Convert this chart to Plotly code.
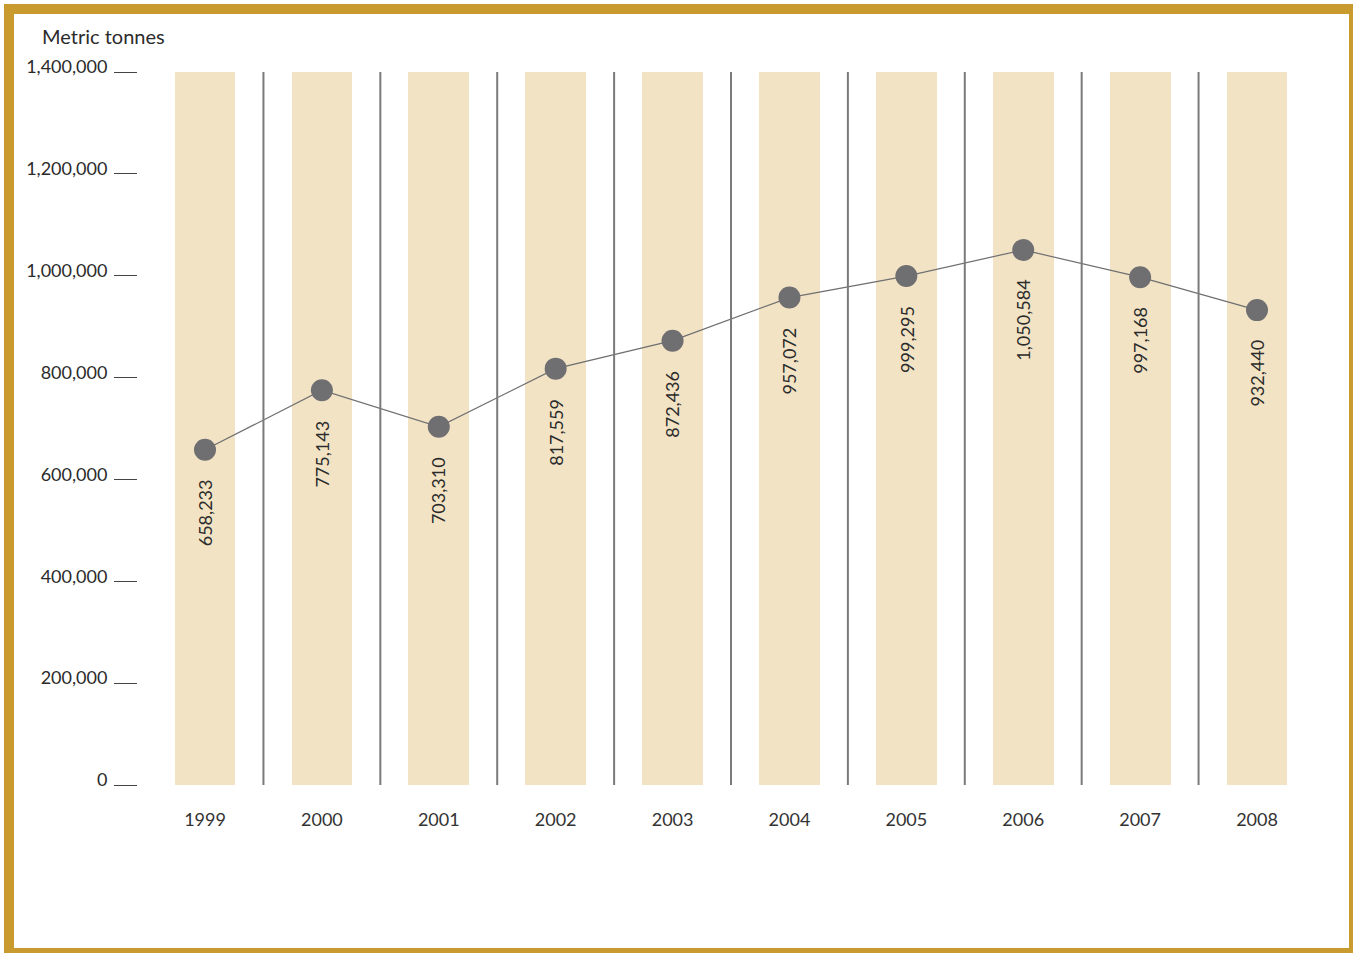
import plotly.graph_objects as go

years = [1999, 2000, 2001, 2002, 2003, 2004, 2005, 2006, 2007, 2008]
tonnes = [658233, 775143, 703310, 817559, 872436, 957072, 999295, 1050584, 997168, 932440]
ytick_vals = [0, 200000, 400000, 600000, 800000, 1000000, 1200000, 1400000]
ytick_text = ["0", "200,000", "400,000", "600,000", "800,000", "1,000,000", "1,200,000", "1,400,000"]
y_max = 1400000
y_title = "Metric tonnes"

W, H = 1353, 953
L, R, T, B = 138, 1300, 72, 785  # plot area in pixels
FONT = "Lato, 'DejaVu Sans', sans-serif"
TXT = "#2b2b2b"
BAND = "#F2E3C5"
GOLD = "#C99A2E"
GREY = "#6f6f71"

def px(x):
    return (x - L) / (R - L)

def py(y):
    return (B - y) / (B - T)

fig = go.Figure()

# background bands
fig.add_trace(go.Bar(
    x=years, y=[y_max] * len(years), width=0.52,
    marker=dict(color=BAND, line=dict(width=0)),
    hoverinfo="skip", showlegend=False,
))

# line + markers
fig.add_trace(go.Scatter(
    x=years, y=tonnes, mode="lines+markers",
    line=dict(color=GREY, width=1.2),
    marker=dict(color=GREY, size=22),
    showlegend=False,
))

shapes = []
# separators between years
for a, b in zip(years[:-1], years[1:]):
    shapes.append(dict(type="line", xref="x", yref="y", x0=(a + b) / 2, x1=(a + b) / 2,
                       y0=0, y1=y_max, line=dict(color="#7a7a7c", width=2), layer="above"))

# gold frame
def rect(x0, y0, x1, y1):
    return dict(type="rect", xref="paper", yref="paper",
                x0=px(x0), x1=px(x1), y0=py(y1), y1=py(y0),
                fillcolor=GOLD, line=dict(width=0), layer="above")

shapes += [
    rect(4, 4, 1353, 14),     # top
    rect(4, 4, 14, 953),      # left
    rect(1349, 4, 1353, 953), # right
    rect(4, 948, 1353, 953),  # bottom
]

annotations = []
for x, v in zip(years, tonnes):
    annotations.append(dict(
        x=x, y=v, xref="x", yref="y", text=f"{v:,}", textangle=-90,
        showarrow=False, yanchor="top", xanchor="center", yshift=-28,
        font=dict(family=FONT, size=18, color=TXT),
    ))

annotations.append(dict(
    x=px(40), y=py(36), xref="paper", yref="paper", text=y_title,
    showarrow=False, xanchor="left", yanchor="middle",
    font=dict(family=FONT, size=20, color=TXT),
))

fig.update_layout(
    width=W, height=H,
    margin=dict(l=L, r=W - R, t=T, b=H - B, pad=0),
    paper_bgcolor="white", plot_bgcolor="white",
    bargap=0, barmode="overlay",
    shapes=shapes, annotations=annotations,
    font=dict(family=FONT, size=18, color=TXT),
    hovermode=False,
    xaxis=dict(
        range=[years[0] - 67 / 116.89, years[-1] + 43 / 116.89],
        tickvals=years, ticktext=[str(y) for y in years],
        showgrid=False, zeroline=False, showline=False, ticks="",
        ticklabelstandoff=22, fixedrange=True,
        tickfont=dict(color="#333333"),
    ),
    yaxis=dict(
        range=[0, y_max], tickvals=ytick_vals, ticktext=ytick_text,
        showgrid=False, zeroline=False, showline=False,
        ticks="outside", ticklen=23, tickwidth=1.2, tickcolor="#444",
        ticklabelstandoff=3, ticklabelshift=-5, fixedrange=True,
    ),
)

fig.write_html(
    "out.html",
    config={"displayModeBar": False},
    post_script="document.documentElement.style.overflow='hidden';"
                "document.body.style.margin='0';document.body.style.overflow='hidden';",
)
